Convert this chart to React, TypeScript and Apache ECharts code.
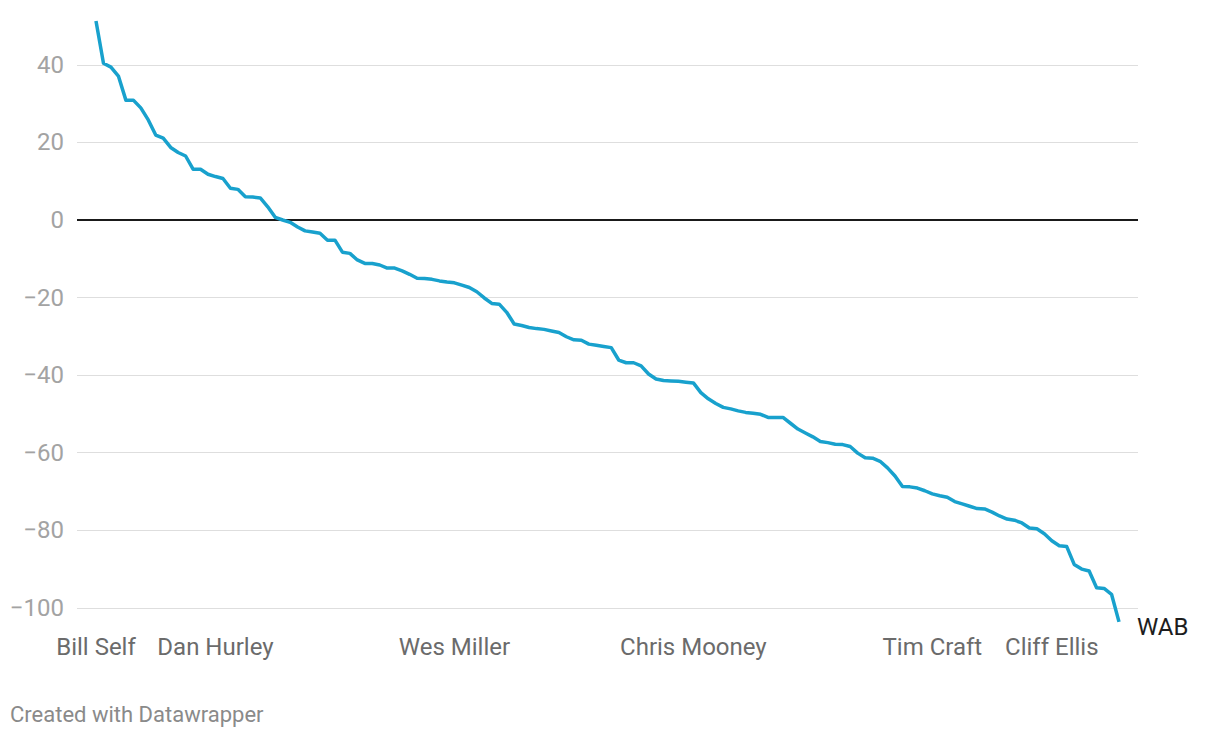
import React, { useEffect, useRef } from "react";
import * as echarts from "echarts";

// WAB value of each coach, ranked from highest to lowest
const wabValues: number[] = [
  51.3, 40.4, 39.4, 37.1, 30.9, 30.9, 28.9, 25.8, 21.9, 21.1,
  18.7, 17.4, 16.5, 13.1, 13.1, 11.8, 11.2, 10.7, 8.2, 7.9,
  6.0, 5.9, 5.7, 3.4, 0.7, 0.0, -0.6, -1.8, -2.8, -3.1,
  -3.4, -5.2, -5.2, -8.3, -8.6, -10.3, -11.2, -11.2, -11.6, -12.4,
  -12.4, -13.1, -14.0, -15.0, -15.1, -15.3, -15.7, -16.0, -16.2, -16.8,
  -17.4, -18.5, -20.1, -21.5, -21.7, -23.8, -26.8, -27.2, -27.7, -28.0,
  -28.2, -28.6, -29.0, -30.1, -30.9, -31.0, -32.0, -32.3, -32.6, -32.9,
  -36.1, -36.8, -36.8, -37.6, -39.7, -41.0, -41.4, -41.5, -41.6, -41.8,
  -42.0, -44.5, -46.1, -47.3, -48.3, -48.7, -49.2, -49.6, -49.8, -50.1,
  -50.9, -50.9, -50.9, -52.4, -53.9, -54.9, -55.9, -57.1, -57.4, -57.8,
  -57.9, -58.4, -60.1, -61.3, -61.4, -62.2, -63.9, -66.0, -68.7, -68.8,
  -69.1, -69.8, -70.6, -71.1, -71.5, -72.6, -73.2, -73.8, -74.4, -74.5,
  -75.3, -76.3, -77.1, -77.4, -78.1, -79.4, -79.6, -80.9, -82.7, -84.0,
  -84.2, -88.8, -90.0, -90.5, -94.8, -95.0, -96.5, -103.6,
];

// Coaches shown as x-axis labels and their rank position
const labelIndices: number[] = [0, 16, 48, 80, 112, 128];
const labelNames: string[] = [
  "Bill Self",
  "Dan Hurley",
  "Wes Miller",
  "Chris Mooney",
  "Tim Craft",
  "Cliff Ellis",
];

const yTicks: number[] = [-100, -80, -60, -40, -20, 0, 20, 40];
const seriesName = "WAB";

const FONT = "Roboto, 'Noto Sans', sans-serif";

export default function App() {
  const ref = useRef<HTMLDivElement>(null);

  useEffect(() => {
    if (!ref.current) return;
    const chart = echarts.init(ref.current, undefined, { renderer: "svg" });
    const n = wabValues.length;
    const pad = 2.544;
    const gridLines = yTicks
      .filter((v) => v !== 0)
      .map((v) => ({ yAxis: v, lineStyle: { color: "#dedede", width: 1, type: "solid" } }));
    gridLines.push({ yAxis: 0, lineStyle: { color: "#1a1a1a", width: 2, type: "solid" } } as any);

    chart.setOption({
      animation: false,
      textStyle: { fontFamily: FONT },
      grid: { left: 77, right: 82, top: 18.3, bottom: 114.6, containLabel: false },
      xAxis: {
        type: "value",
        min: -pad,
        max: n - 1 + pad,
        axisLine: { show: false },
        axisTick: { show: false },
        splitLine: { show: false },
        axisLabel: {
          customValues: labelIndices,
          formatter: (v: number) => {
            const k = labelIndices.indexOf(Math.round(v));
            return k >= 0 ? labelNames[k] : "";
          },
          color: "#6b6b6b",
          fontSize: 24,
          fontFamily: FONT,
          margin: 12,
          showMinLabel: true,
          showMaxLabel: true,
          hideOverlap: false,
        },
      },
      yAxis: {
        type: "value",
        min: -104,
        max: 52,
        axisLine: { show: false },
        axisTick: { show: false },
        splitLine: { show: false },
        axisLabel: {
          customValues: yTicks,
          color: "#a3a3a3",
          fontSize: 24,
          fontFamily: FONT,
          margin: 13,
          formatter: (v: number) => (v < 0 ? "\u2212" + Math.abs(v) : String(v)),
        },
      },
      graphic: [
        {
          type: "text",
          left: 10,
          top: 703,
          style: {
            text: "Created with Datawrapper",
            fill: "#8a8a8a",
            fontSize: 22,
            fontFamily: FONT,
          },
        },
      ],
      series: [
        {
          type: "line",
          name: "grid",
          data: [],
          z: 1,
          silent: true,
          markLine: {
            silent: true,
            symbol: ["none", "none"],
            label: { show: false },
            emphasis: { disabled: true },
            data: gridLines,
          },
        },
        {
          type: "line",
          name: seriesName,
          z: 5,
          data: wabValues.map((v, i) => [i, v]),
          showSymbol: false,
          symbol: "none",
          lineStyle: { color: "#18a1cd", width: 3.5, join: "round" },
          clip: false,
          endLabel: {
            show: true,
            formatter: seriesName,
            color: "#1d1d1d",
            fontSize: 24,
            fontFamily: FONT,
            distance: 18,
            offset: [0, 5],
          },
        },
      ],
    });
    return () => chart.dispose();
  }, []);

  return (
    <div
      ref={ref}
      style={{ position: "fixed", left: 0, top: 0, width: 1220, height: 738, background: "#fff" }}
    />
  );
}
